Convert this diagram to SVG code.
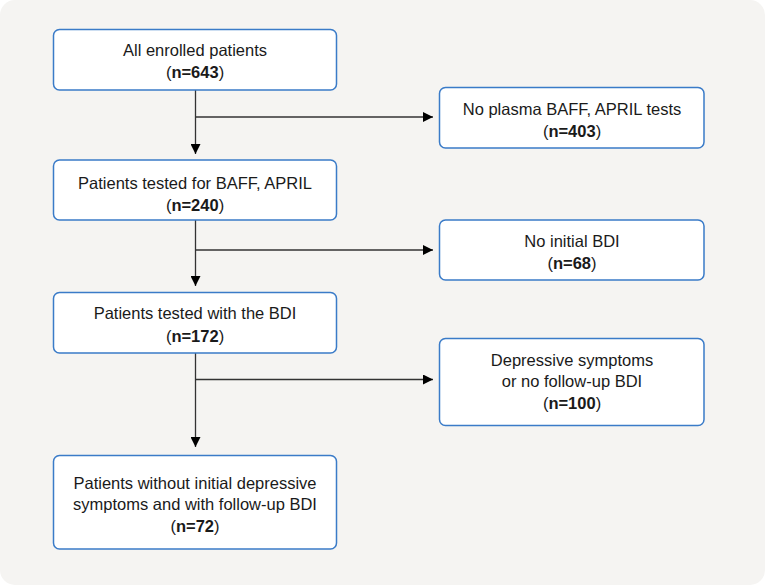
<svg xmlns="http://www.w3.org/2000/svg" width="765" height="585" viewBox="0 0 765 585">
<style>
.bg{fill:#f5f4f2}
.box{fill:#ffffff;stroke:#3a7bc8;stroke-width:1.5}
.t{font-family:"Liberation Sans",Arial,Helvetica,sans-serif;font-size:16.5px;fill:#1a1a1a;text-anchor:middle}
.b{font-weight:bold}
.c{fill:none;stroke:#333333;stroke-width:1.3}
</style>
<defs>
<marker id="ah" viewBox="0 0 10 10" refX="10" refY="5" markerWidth="10" markerHeight="10" markerUnits="userSpaceOnUse" orient="auto">
<path d="M0,0 L10,5 L0,10 Z" fill="#000000"/>
</marker>
</defs>
<rect class="bg" x="0" y="0" width="765" height="585" rx="15" ry="15"/>
<g id="connectors">
<line class="c" x1="195.5" y1="90" x2="195.5" y2="154" marker-end="url(#ah)"/>
<line class="c" x1="195.5" y1="117" x2="433" y2="117" marker-end="url(#ah)"/>
<line class="c" x1="195.5" y1="220" x2="195.5" y2="286" marker-end="url(#ah)"/>
<line class="c" x1="195.5" y1="250" x2="433" y2="250" marker-end="url(#ah)"/>
<line class="c" x1="195.5" y1="353" x2="195.5" y2="447" marker-end="url(#ah)"/>
<line class="c" x1="195.5" y1="379.5" x2="433" y2="379.5" marker-end="url(#ah)"/>
</g>
<g id="n1">
<rect class="box" x="53.5" y="29.5" width="283" height="60.5" rx="6"/>
<text class="t" x="195" y="56">All enrolled patients</text>
<text class="t" x="195" y="78">(<tspan class="b">n=643</tspan>)</text>
</g>
<g id="n2">
<rect class="box" x="53.5" y="160" width="283" height="60" rx="6"/>
<text class="t" x="195" y="189">Patients tested for BAFF, APRIL</text>
<text class="t" x="195" y="211">(<tspan class="b">n=240</tspan>)</text>
</g>
<g id="n3">
<rect class="box" x="53.5" y="292.5" width="283" height="60.5" rx="6"/>
<text class="t" x="195" y="319">Patients tested with the BDI</text>
<text class="t" x="195" y="342">(<tspan class="b">n=172</tspan>)</text>
</g>
<g id="n4">
<rect class="box" x="53.5" y="455.5" width="283" height="93.5" rx="6"/>
<text class="t" x="195" y="489">Patients without initial depressive</text>
<text class="t" x="195" y="510">symptoms and with follow-up BDI</text>
<text class="t" x="195" y="532">(<tspan class="b">n=72</tspan>)</text>
</g>
<g id="r1">
<rect class="box" x="439.5" y="87.5" width="264.5" height="60.5" rx="6"/>
<text class="t" x="572" y="115">No plasma BAFF, APRIL tests</text>
<text class="t" x="572" y="137">(<tspan class="b">n=403</tspan>)</text>
</g>
<g id="r2">
<rect class="box" x="439.5" y="220" width="264.5" height="60" rx="6"/>
<text class="t" x="572" y="247">No initial BDI</text>
<text class="t" x="572" y="269">(<tspan class="b">n=68</tspan>)</text>
</g>
<g id="r3">
<rect class="box" x="439.5" y="338.5" width="264.5" height="87" rx="6"/>
<text class="t" x="572" y="366">Depressive symptoms</text>
<text class="t" x="572" y="387">or no follow-up BDI</text>
<text class="t" x="572" y="409">(<tspan class="b">n=100</tspan>)</text>
</g>
</svg>
